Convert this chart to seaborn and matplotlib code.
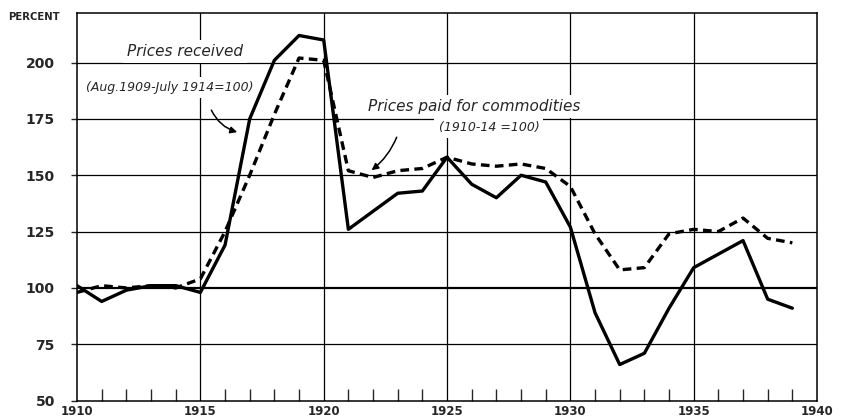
import numpy as np
import pandas as pd
import matplotlib
matplotlib.use("Agg")
import matplotlib.pyplot as plt
import seaborn as sns

# 数据
years = list(range(1910, 1940))
prices_received = [101, 94, 99, 101, 101, 98, 119, 175, 201, 212, 210, 126, 134, 142, 143,
                   158, 146, 140, 150, 147, 127, 89, 66, 71, 91, 109, 115, 121, 95, 91]
prices_paid = [98, 101, 100, 101, 100, 104, 125, 150, 177, 202, 201, 152, 149, 152, 153,
               158, 155, 154, 155, 153, 145, 124, 108, 109, 124, 126, 125, 131, 122, 120]
y_ticks = [50, 75, 100, 125, 150, 175, 200]
x_labels = [1910, 1915, 1920, 1925, 1930, 1935, 1940]

df = pd.DataFrame({"year": years, "received": prices_received, "paid": prices_paid})

sns.set_style("white")
plt.rcParams['font.family'] = ['DejaVu Sans']

fig = plt.figure(figsize=(8.41, 4.18), dpi=100)
ax = fig.add_axes([0.0916, 0.0416, 0.8799, 0.9274])

# 网格线
for v in [75, 125, 150, 175, 200]:
    ax.axhline(v, color="black", lw=0.9, zorder=1)
ax.axhline(100, color="black", lw=1.6, zorder=1)
for v in [1915, 1920, 1925, 1930, 1935]:
    ax.axvline(v, color="black", lw=0.9, zorder=1)

sns.lineplot(data=df, x="year", y="received", ax=ax, color="black", lw=2.4, zorder=3)
sns.lineplot(data=df, x="year", y="paid", ax=ax, color="black", lw=2.4,
             linestyle=(0, (2.6, 1.6)), zorder=3)

ax.set_xlim(1910, 1940)
ax.set_ylim(50, 222)
ax.set_xlabel("")
ax.set_ylabel("")

for s in ax.spines.values():
    s.set_color("black")
    s.set_linewidth(1.1)
    s.set_visible(True)

ax.set_yticks(y_ticks)
ax.set_yticklabels([str(v) for v in y_ticks], fontsize=10, fontweight="bold")
ax.tick_params(axis="y", direction="out", length=4, width=1, left=True, pad=12)

ax.set_xticks(x_labels)
ax.set_xticklabels([str(v) for v in x_labels], fontsize=8.5, fontweight="bold")
ax.set_xticks(years, minor=True)
ax.tick_params(axis="x", which="major", length=0, pad=3)
ax.tick_params(axis="x", which="minor", direction="in", length=9, width=1, bottom=True)

fig.text(0.01, 0.953, "PERCENT", fontsize=7.3, fontweight="bold")

# 标注
box = dict(facecolor="white", edgecolor="none", pad=3)
ax.text(1914.38, 204.8, "Prices received", fontsize=11, style="italic",
        ha="center", va="center", bbox=box, zorder=2)
ax.text(1913.77, 188.8, "(Aug.1909-July 1914=100)", fontsize=9, style="italic",
        ha="center", va="center", bbox=box, zorder=2)
ax.annotate("", xy=(1916.6, 168.8), xytext=(1915.4, 180),
            arrowprops=dict(arrowstyle="-|>", color="black", lw=1.1,
                            connectionstyle="arc3,rad=0.25"), zorder=2)
ax.text(1926.1, 180.4, "Prices paid for commodities", fontsize=11, style="italic",
        ha="center", va="center", bbox=box, zorder=2)
ax.text(1926.7, 171.4, "(1910-14 =100)", fontsize=9, style="italic",
        ha="center", va="center", bbox=box, zorder=2)
ax.annotate("", xy=(1921.85, 151.5), xytext=(1923.0, 168),
            arrowprops=dict(arrowstyle="-|>", color="black", lw=1.1,
                            connectionstyle="arc3,rad=-0.15"), zorder=2)

fig.savefig("out.png", dpi=100)
